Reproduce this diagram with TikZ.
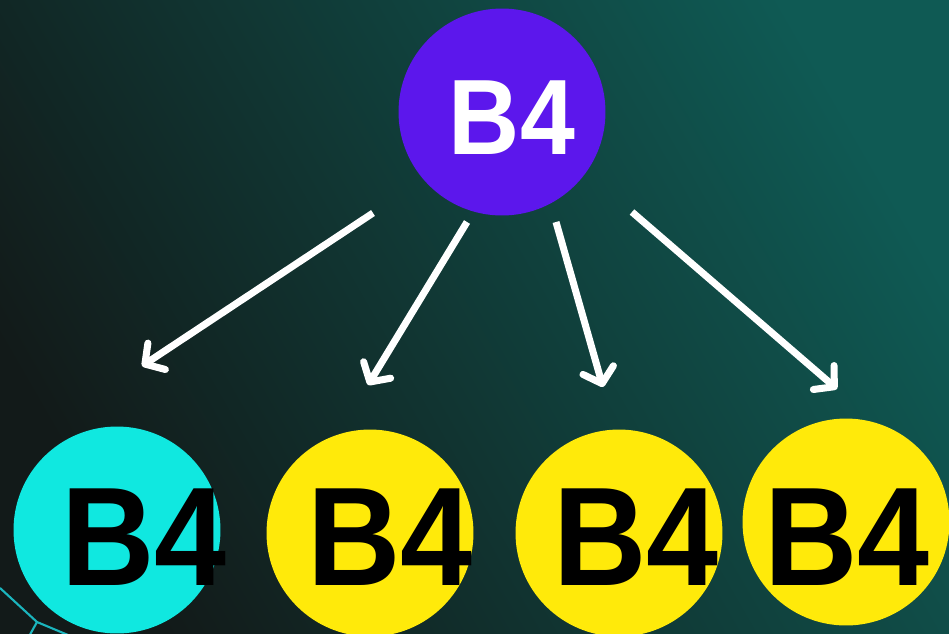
\documentclass[tikz,border=0pt]{standalone}
\usepackage{fontspec}
\setmainfont{Liberation Sans}
\usetikzlibrary{arrows.meta}

\definecolor{fundoesc}{HTML}{121A19}
\definecolor{fundoverde}{HTML}{0F5A54}
\definecolor{roxo}{HTML}{5C17EC}
\definecolor{ciano}{HTML}{10E8E0}
\definecolor{amarelo}{HTML}{FFEA0A}
\definecolor{linhaciano}{HTML}{1BB5BD}

\newcommand{\estreito}[1]{\scalebox{0.92}[1]{#1}}

\begin{document}
\begin{tikzpicture}[x=0.02cm, y=-0.02cm,
    bola/.style={circle, minimum size=4.14cm, inner sep=0pt},
    rotulo/.style={font=\fontsize{80}{80}\selectfont\bfseries, inner sep=0pt},
    seta/.style={white, line width=4pt, -{Straight Barb[length=8pt, width=18pt, round]}}]
            \useasboundingbox (0,0) rectangle (949,633);
            \clip (0,0) rectangle (949,633);

            % Fundo
            \shade[left color=fundoesc, right color=fundoverde, shading angle=120] (-10,-10) rectangle (960,645);
            \draw[linhaciano, line width=1.2pt] (0,588) -- (37,622) -- (80,640);
            \draw[linhaciano, line width=1.2pt] (37,622) -- (27,640);

            % Bola de cima
            \node[bola, fill=roxo] (pai) at (502,112) {};
            \node[rotulo, white, font=\fontsize{61}{61}\selectfont\bfseries] (tpai) at (512,118) {\estreito{B4}};

            % Bolas de baixo
            \node[bola, fill=ciano] (f1) at (117,530) {};
            \node[bola, fill=amarelo] (f2) at (370,533) {};
            \node[bola, fill=amarelo] (f3) at (619,533) {};
            \node[bola, fill=amarelo] (f4) at (846,522) {};
            \node[rotulo] (t1) at (144,537) {\estreito{B4}};
            \node[rotulo] (t2) at (390,537) {\estreito{B4}};
            \node[rotulo] (t3) at (636,537) {\estreito{B4}};
            \node[rotulo] (t4) at (847,537) {\estreito{B4}};

            % Setas
            \coordinate (s1) at (373,213);
            \coordinate (s2) at (467,222);
            \coordinate (s3) at (556,222);
            \coordinate (s4) at (632,212);
            \coordinate (e1) at (142,366);
            \coordinate (e2) at (368,385);
            \coordinate (e3) at (603,387);
            \coordinate (e4) at (837,389);
            \foreach \i in {1,...,4}
                \draw[seta] (s\i) -- (e\i);
        \end{tikzpicture}
\end{document}
